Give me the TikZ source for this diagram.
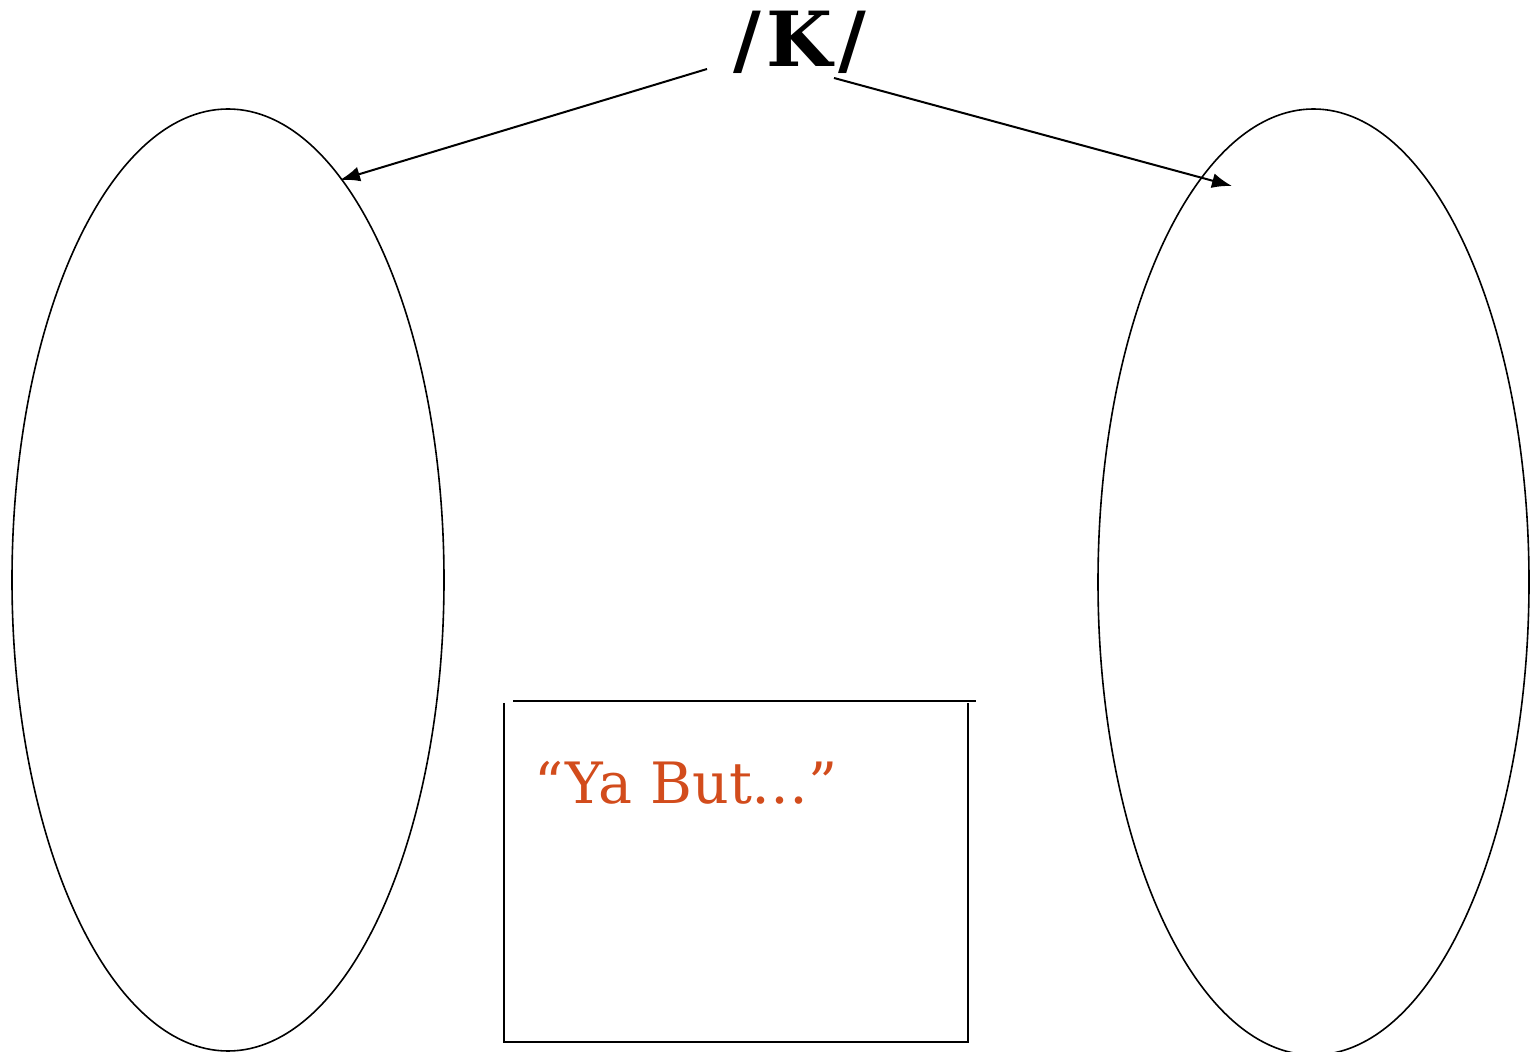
\documentclass[tikz,border=0pt]{standalone}
\usepackage{fontspec}
\usetikzlibrary{arrows.meta}
\newfontfamily\titlefont{DejaVu Serif}
\newfontfamily\slabfont{DejaVu Serif}
\definecolor{yaorange}{RGB}{210,76,28}
\begin{document}
\begin{tikzpicture}[x=0.5pt,y=-0.5pt,
  conn/.style={draw=black,line width=1pt,-{Latex[length=10pt,width=7.5pt]}},
  boxline/.style={draw=black,line width=1.2pt}]
\useasboundingbox (0,0) rectangle (1531,1052);
% ellipses
\draw[line width=0.8pt] (228,580) ellipse [x radius=216,y radius=471];
\draw[line width=0.8pt] (1313.5,582) ellipse [x radius=215.5,y radius=473];
\coordinate (lefttip) at (340,180);
\coordinate (righttip) at (1232,186);
% title
\node[font=\titlefont\bfseries\fontsize{38}{38}\selectfont,inner sep=0pt,anchor=base] (title) at (800,67) {/\hspace{3pt}K\hspace{3pt}/};
\coordinate (ls) at (707,69);
\coordinate (rs) at (834,78);
\draw[conn] (ls) -- (lefttip);
\draw[conn] (rs) -- (righttip);
% box
\coordinate (tl) at (513,701);
\coordinate (tr) at (976,701);
\coordinate (lt) at (504,703);
\coordinate (lb) at (504,1042);
\coordinate (rt) at (968,703);
\coordinate (rb) at (968,1042);
\draw[boxline] (tl) -- (tr);
\draw[boxline] (lt) -- (lb) -- (rb) -- (rt);
\node[anchor=base west,inner sep=0pt,text=yaorange,font=\slabfont\fontsize{28.5}{28.5}\selectfont] (yabut) at (534,804) {“Ya But…”};
\end{tikzpicture}
\end{document}
